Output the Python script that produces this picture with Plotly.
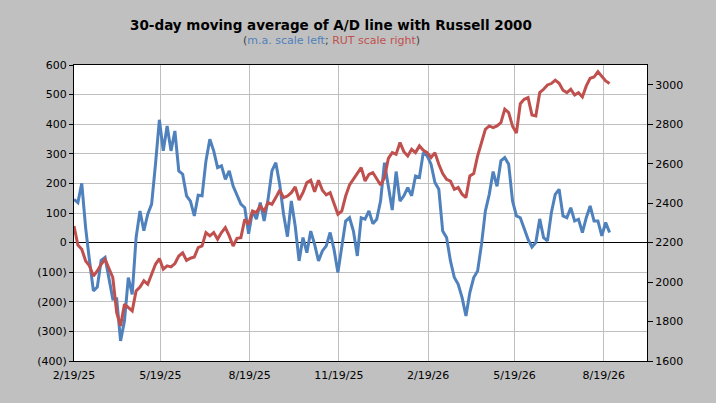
import pandas as pd
import plotly.graph_objects as go

# 30-day moving average of the A/D line (left axis) and Russell 2000 (right axis),
# one reading every 4 days starting 2/19/25
start_date = "2025-02-19"

ad_ma = [146, 135, 200, 50, -62, -163, -150, -60, -50, -118, -191, -190, -332, -265, -118, -175,
         17, 107, 40, 96, 130, 265, 415, 310, 394, 310, 377, 242, 231, 158, 140, 90, 160, 158,
         276, 349, 310, 253, 259,
         214, 242, 191, 158, 130, 118, 30, 107, 79, 135, 73, 146, 242, 270, 197, 96, 20, 141,
         56, -62, 17, -34, 39, -6, -62, -28, -11, 34, -23, -101, -11, 73, 84, 39, -45, 84, 79, 107,
         64, 79, 141, 270, 190, 110, 240, 140, 158, 186, 158, 225, 220, 304, 293, 265, 203, 180,
         39, 17, -62, -118, -141, -186, -248, -169, -118, -96, -6, 107, 163, 240, 190, 276, 287,
         265, 141,
         90, 84, 45, 11, -15, 0, 80, 17, 6, 101, 163, 180, 90, 84, 118, 73, 79, 34, 84, 124, 73,
         73, 23, 68, 34]

rut = [2284, 2188, 2166, 2107, 2082, 2031, 2056, 2090, 2116, 2065, 2023, 1845, 1778, 1888, 1871,
       1854, 1955, 1975, 2006, 1989, 2040, 2090, 2119, 2065, 2082, 2077, 2094, 2132, 2148, 2110,
       2121, 2127, 2175, 2183, 2251, 2234, 2251, 2217, 2251,
       2276, 2234, 2183, 2222, 2225, 2318, 2293, 2360, 2352, 2386, 2360, 2403, 2394, 2428, 2465,
       2428, 2436, 2453, 2482, 2416, 2453, 2504, 2516, 2458, 2516, 2465, 2442, 2453, 2403, 2344,
       2360, 2436, 2492, 2521, 2546, 2580, 2512, 2546,
       2555, 2526, 2492, 2529, 2627, 2656, 2648, 2707, 2661, 2639, 2673, 2656, 2690, 2668, 2656,
       2631, 2656, 2597, 2550, 2521, 2512, 2470, 2479, 2445, 2428, 2538, 2550, 2639, 2707, 2774,
       2791, 2783, 2791, 2808, 2876, 2859, 2790,
       2755, 2904, 2926, 2935, 2847, 2842, 2960, 2977, 2999, 3006, 3023, 3007, 2972, 2960, 2977,
       2948, 2960, 2938, 2994, 3033, 3039, 3066, 3044, 3019, 3006]

date_ticks = ["2025-02-19", "2025-05-19", "2025-08-19", "2025-11-19",
              "2026-02-19", "2026-05-19", "2026-08-19"]
date_labels = ["2/19/25", "5/19/25", "8/19/25", "11/19/25", "2/19/26", "5/19/26", "8/19/26"]
x_range = ["2025-02-19", "2026-10-02 14:00"]

left_ticks = [-400, -300, -200, -100, 0, 100, 200, 300, 400, 500, 600]
right_ticks = [1600, 1800, 2000, 2200, 2400, 2600, 2800, 3000]
right_range = [1600, 3100]

dates = pd.date_range(start_date, periods=len(ad_ma), freq="4D")
left_labels = [f"({abs(v)})" if v < 0 else str(v) for v in left_ticks]

BLUE = "#4F81BD"
RED = "#C0504D"
FONT = "DejaVu Sans"

fig = go.Figure()
fig.add_trace(go.Scatter(x=dates, y=ad_ma, mode="lines", name="m.a.",
                         line=dict(color=BLUE, width=3)))
fig.add_trace(go.Scatter(x=dates, y=rut, mode="lines", name="RUT", yaxis="y2",
                         line=dict(color=RED, width=3)))

# position of the zero line in the plot area (for the crossing tick marks)
zero_pos = (0 - left_ticks[0]) / (left_ticks[-1] - left_ticks[0])

fig.update_layout(
    width=716, height=403,
    margin=dict(l=74, r=69, t=65, b=42),
    paper_bgcolor="#C0C0C0",
    plot_bgcolor="white",
    showlegend=False,
    font=dict(family=FONT, size=11, color="black"),
    title=dict(text="<b>30-day moving average of A/D line with Russell 2000</b>",
               font=dict(family=FONT, size=13.5, color="black"),
               xref="container", x=331 / 716, xanchor="center",
               yref="container", y=1 - 25 / 403, yanchor="middle"),
    xaxis=dict(type="date", range=x_range, tickvals=date_ticks, ticktext=date_labels,
               showgrid=True, gridcolor="#BFBFBF", gridwidth=1,
               showline=True, linecolor="black", linewidth=1, mirror=True,
               ticks="", ticklabelstandoff=4, zeroline=False),
    xaxis2=dict(type="date", range=x_range, tickvals=date_ticks, overlaying="x",
                anchor="free", position=zero_pos, side="bottom",
                showticklabels=False, ticks="outside", ticklen=3, tickcolor="black",
                showgrid=False, showline=False, zeroline=False),
    xaxis3=dict(type="date", range=x_range, tickvals=date_ticks, overlaying="x",
                anchor="free", position=zero_pos, side="top",
                showticklabels=False, ticks="outside", ticklen=3, tickcolor="black",
                showgrid=False, showline=False, zeroline=False),
    yaxis=dict(range=[left_ticks[0], left_ticks[-1]], tickvals=left_ticks, ticktext=left_labels,
               showgrid=True, gridcolor="#BFBFBF", gridwidth=1,
               zeroline=True, zerolinecolor="black", zerolinewidth=1,
               showline=True, linecolor="black", linewidth=1,
               ticks="outside", ticklen=4, tickcolor="black"),
    yaxis2=dict(range=right_range, tickvals=right_ticks, overlaying="y", side="right",
                showgrid=False, zeroline=False,
                showline=True, linecolor="black", linewidth=1,
                ticks="outside", ticklen=5, tickcolor="black"),
)

fig.add_annotation(
    text=(f"<span style='color:#404040'>(</span><span style='color:{BLUE}'>m.a. scale left</span>"
          f"<span style='color:#404040'>;</span> <span style='color:{RED}'>RUT scale right</span>"
          f"<span style='color:#404040'>)</span>"),
    xref="paper", x=(331 - 74) / (647 - 74), xanchor="center",
    yref="paper", y=(361 - 40) / (361 - 65), yanchor="middle",
    showarrow=False, font=dict(family=FONT, size=11),
)

# the page has a default body margin; drop it so the chart sits at the window's corner
fig.write_html("out.html", config={"displayModeBar": False},
               post_script="document.body.style.margin = '0';")
